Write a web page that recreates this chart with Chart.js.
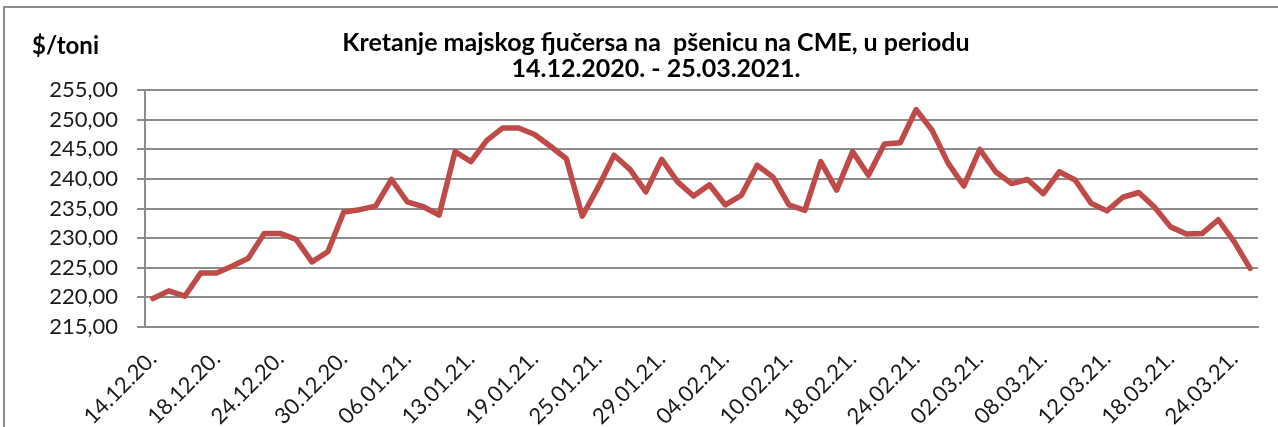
<!DOCTYPE html>
<html>
<head>
<meta charset="utf-8">
<title>Kretanje majskog fjučersa na pšenicu na CME</title>
<script src="https://cdn.jsdelivr.net/npm/chart.js@4/dist/chart.umd.min.js"></script>
<style>
  html, body { margin: 0; padding: 0; background: #fff; }
  #wrap { position: relative; width: 1278px; height: 427px; }
</style>
</head>
<body>
<div id="wrap"><canvas id="wheatChart" width="1278" height="427"></canvas></div>
<script>
// trgovacki dani (svaki cetvrti se prikazuje na osi)
const dates = [
    '14.12.20.', '15.12.20.', '16.12.20.', '17.12.20.', '18.12.20.', '21.12.20.', '22.12.20.', '23.12.20.',
    '24.12.20.', '25.12.20.', '28.12.20.', '29.12.20.', '30.12.20.', '31.12.20.', '04.01.21.', '05.01.21.',
    '06.01.21.', '07.01.21.', '08.01.21.', '11.01.21.', '13.01.21.', '14.01.21.', '15.01.21.', '18.01.21.',
    '19.01.21.', '20.01.21.', '21.01.21.', '22.01.21.', '25.01.21.', '26.01.21.', '27.01.21.', '28.01.21.',
    '29.01.21.', '01.02.21.', '02.02.21.', '03.02.21.', '04.02.21.', '05.02.21.', '08.02.21.', '09.02.21.',
    '10.02.21.', '11.02.21.', '12.02.21.', '17.02.21.', '18.02.21.', '19.02.21.', '22.02.21.', '23.02.21.',
    '24.02.21.', '25.02.21.', '26.02.21.', '01.03.21.', '02.03.21.', '03.03.21.', '04.03.21.', '05.03.21.',
    '08.03.21.', '09.03.21.', '10.03.21.', '11.03.21.', '12.03.21.', '15.03.21.', '16.03.21.', '17.03.21.',
    '18.03.21.', '19.03.21.', '22.03.21.', '23.03.21.', '24.03.21.', '25.03.21.'
];

// cijena u $/toni
const prices = [
    219.8, 221.1, 220.2, 224.1, 224.1, 225.3, 226.6, 230.8,
    230.8, 229.8, 226.0, 227.7, 234.4, 234.8, 235.4, 239.9,
    236.1, 235.3, 233.9, 244.6, 242.9, 246.5, 248.6, 248.6,
    247.5, 245.5, 243.4, 233.7, 238.6, 244.0, 241.6, 237.8,
    243.3, 239.5, 237.1, 239.0, 235.6, 237.2, 242.3, 240.3,
    235.6, 234.7, 242.9, 238.1, 244.6, 240.6, 245.9, 246.1,
    251.7, 248.2, 242.7, 238.8, 245.0, 241.2, 239.2, 239.9,
    237.5, 241.2, 239.8, 235.9, 234.6, 236.9, 237.7, 235.2,
    231.9, 230.7, 230.8, 233.1, 229.4, 224.9
];

const yMin = 215;
const yMax = 255;
const yStep = 5;
const labelEvery = 4;

const titleLines = ['Kretanje majskog fjučersa na  pšenicu na CME, u periodu', '14.12.2020. - 25.03.2021.'];
const unitLabel = '$/toni';

const gridGray = '#8c8c8c';
const textColor = '#1a1a1a';

// naslov, jedinica i okvir
const headerPlugin = {
    id: 'header',
    beforeDraw(chart) {
        const ctx = chart.ctx;
        ctx.save();
        ctx.strokeStyle = gridGray;
        ctx.lineWidth = 2;
        ctx.beginPath();
        ctx.moveTo(4, 427);
        ctx.lineTo(4, 7);
        ctx.lineTo(1278, 7);
        ctx.stroke();

        ctx.fillStyle = '#000';
        ctx.textBaseline = 'alphabetic';
        ctx.font = 'bold 24px Lato';
        ctx.textAlign = 'left';
        ctx.fillText(unitLabel, 32, 54);

        ctx.font = 'bold 25px Lato';
        ctx.textAlign = 'center';
        ctx.fillText(titleLines[0], 656, 51);
        ctx.fillText(titleLines[1], 656, 77);
        ctx.restore();
    }
};

const ctx = document.getElementById('wheatChart').getContext('2d');

new Chart(ctx, {
    type: 'line',
    data: {
        labels: dates,
        datasets: [{
            label: 'Majski fjučers',
            data: prices,
            borderColor: '#be4b48',
            borderWidth: 5.5,
            pointRadius: 0,
            tension: 0,
            fill: false,
            borderJoinStyle: 'round',
            borderCapStyle: 'round'
        }]
    },
    options: {
        responsive: false,
        animation: false,
        layout: {
            padding: { top: 90, right: 20, bottom: 0, left: 0 }
        },
        plugins: {
            legend: { display: false },
            tooltip: { enabled: false },
            title: { display: false }
        },
        scales: {
            x: {
                offset: true,
                grid: { display: false, drawTicks: false },
                border: { display: true, color: gridGray, width: 2 },
                ticks: {
                    autoSkip: false,
                    maxRotation: 45,
                    minRotation: 45,
                    padding: 19,
                    color: textColor,
                    font: { family: 'Lato', size: 22 },
                    callback: (value, index) => index % labelEvery === 0 ? dates[index] : null
                },
                afterFit: scale => { scale.height = 100; }
            },
            y: {
                min: yMin,
                max: yMax,
                grid: { color: gridGray, lineWidth: 2, tickLength: 8 },
                border: { color: gridGray, width: 2 },
                ticks: {
                    stepSize: yStep,
                    padding: 19,
                    color: textColor,
                    font: { family: 'Lato', size: 22 },
                    callback: value => value.toFixed(2).replace('.', ',')
                },
                afterFit: scale => { scale.width = 145; }
            }
        }
    },
    plugins: [headerPlugin]
});
</script>
</body>
</html>
